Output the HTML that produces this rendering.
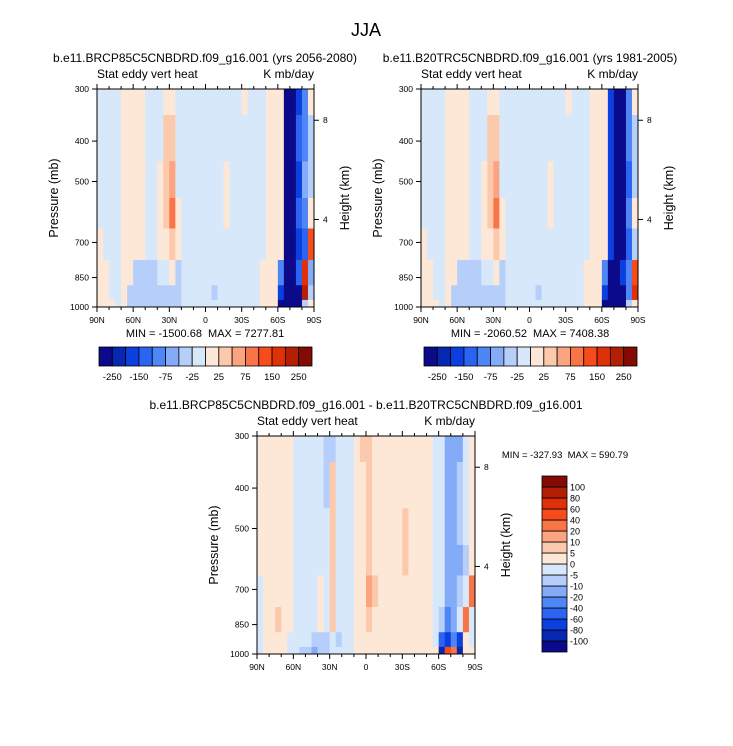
<!DOCTYPE html>
<html><head><meta charset="utf-8"><style>
body{margin:0;background:#fff;}
svg{display:block;font-family:"Liberation Sans",sans-serif;}
svg text{white-space:pre;}
</style></head><body>
<svg id="c" width="733" height="746" viewBox="0 0 733 746" xmlns="http://www.w3.org/2000/svg">
<text x="366" y="36" font-size="18" text-anchor="middle">JJA</text>
</svg>
<script>
// ---- data ----
const levels = [300,400,500,600,700,850,925,1000];
const latBins = 36; // 5-degree bins from 90N to 90S
const topBounds = [-250,-200,-150,-100,-75,-50,-25,0,25,50,75,100,150,200,250];
const topTickLabels = ["-250","-150","-75","-25","25","75","150","250"];
const diffBounds = [-100,-80,-60,-40,-20,-10,-5,0,5,10,20,40,60,80,100];
const diffTickLabels = ["-100","-80","-60","-40","-20","-10","-5","0","5","10","20","40","60","80","100"];
const colors = ["#0a0a8a","#0628b0","#0b3fe0","#2b64f2","#4e86f5","#84abf8","#b6cffa","#d8e8fb","#fde8d8","#fcc9ac","#fba47f","#f97446","#f74b1b","#df3008","#b21f05","#840a04"];
const xTicks = ["90N","60N","30N","0","30S","60S","90S"];
const pTicks = [300,400,500,700,850,1000];
const hTicks = [8,4];
const hTickPressure = [356.5,616.6];

const fieldA = [
[-10,-10,-10,-10,10,10,10,10,-10,-10,-10,10,10,-10,-10,-10,-10,-10,-10,-10,-10,-10,-10,-10,10,-10,-10,-10,10,10,10,-300,-300,-200,-100,10],
[-10,-10,-10,-10,10,10,10,10,-10,-10,-10,30,40,-10,-10,-10,-10,-10,-10,-10,-10,-10,-10,-10,-10,-10,-10,-10,10,10,10,-300,-300,-150,-100,-30],
[-10,-10,-10,-10,10,10,10,10,-10,-10,10,40,60,-10,-10,-10,-10,-10,-10,-10,-10,10,-10,-10,-10,-10,-10,-10,10,10,10,-300,-300,-200,-75,-30],
[-10,-10,-10,-10,10,10,10,10,-10,-10,10,30,80,10,-10,-10,-10,-10,-10,-10,-10,10,-10,-10,-10,-10,-10,-10,10,10,10,-300,-300,-150,-100,10],
[10,-10,-10,-10,10,10,10,10,-10,-10,10,10,30,10,-10,-10,-10,-10,-10,-10,-10,-10,-10,-10,-10,-10,-10,-10,10,10,10,-300,-300,-200,-150,100],
[10,10,-10,-10,10,10,-30,-30,-30,-30,-10,-10,10,-30,-10,-10,-10,-10,-10,-10,-10,-10,-10,-10,-10,-10,-10,10,10,10,-100,-300,-300,-150,150,-75],
[10,10,-10,-10,10,-30,-50,-50,-50,-30,-30,-50,-30,-50,-10,-10,-10,-10,-10,-30,-10,-10,-10,-10,-10,-10,-10,10,10,10,-200,-300,-300,-300,200,-50],
[10,10,10,-10,10,-30,-50,-30,-50,-30,-30,-50,-30,-30,-10,-10,-10,-10,-10,-10,-10,-10,-10,-10,-10,-10,-10,10,10,10,-300,-300,-300,-300,-50,10]
];
const fieldB = [
[-10,-10,-10,-10,10,10,10,10,-10,-10,-10,10,10,-10,-10,-10,-10,-10,-10,-10,-10,-10,-10,-10,10,-10,-10,-10,10,10,10,-200,-300,-300,-100,10],
[-10,-10,-10,-10,10,10,10,10,-10,-10,-10,30,40,-10,-10,-10,-10,-10,-10,-10,-10,-10,-10,-10,-10,-10,-10,-10,10,10,10,-200,-300,-300,-100,-30],
[-10,-10,-10,-10,10,10,10,10,-10,-10,10,40,60,-10,-10,-10,-10,-10,-10,-10,-10,10,-10,-10,-10,-10,-10,-10,10,10,10,-200,-300,-300,-150,-30],
[-10,-10,-10,-10,10,10,10,10,-10,-10,10,30,80,10,-10,-10,-10,-10,-10,-10,-10,10,-10,-10,-10,-10,-10,-10,10,10,10,-200,-300,-300,-100,10],
[10,-10,-10,-10,10,10,10,10,-10,-10,10,10,30,10,-10,-10,-10,-10,-10,-10,-10,-10,-10,-10,-10,-10,-10,-10,10,10,10,-200,-300,-300,-150,-50],
[10,10,-10,-10,10,10,-30,-30,-30,-30,-10,-10,10,-30,-10,-10,-10,-10,-10,-10,-10,-10,-10,-10,-10,-10,-10,10,10,10,-100,-300,-300,-200,-100,100],
[10,10,-10,-10,10,-30,-50,-50,-50,-30,-30,-50,-30,-50,-10,-10,-10,-10,-10,-30,-10,-10,-10,-10,-10,-10,-10,10,10,10,-200,-300,-300,-300,-100,150],
[10,10,10,-10,10,-30,-50,-30,-50,-30,-30,-50,-30,-30,-10,-10,-10,-10,-10,-10,-10,-10,-10,-10,-10,-10,-10,10,10,10,-300,-300,-300,-300,-50,10]
];
const fieldD = [
[3,3,3,3,3,3,-3,-3,-3,-3,-3,-7,-7,-3,-3,-3,3,7,7,3,3,3,3,3,3,3,3,3,3,-3,-3,-15,-15,-15,-3,3],
[3,3,3,3,3,3,-3,-3,-3,-3,-3,-7,7,-3,-3,-3,3,3,7,3,3,3,3,3,3,3,3,3,3,-3,-3,-15,-15,-7,-3,3],
[3,3,3,3,3,3,-3,-3,-3,-3,-3,-3,7,-3,-3,-3,3,3,7,3,3,3,3,3,7,3,3,3,3,-3,-3,-15,-15,-7,-3,3],
[3,3,3,3,3,3,-3,-3,-3,-3,-3,-3,7,-3,-3,-3,3,3,7,3,3,3,3,3,7,3,3,3,3,-3,-3,-15,-15,-15,-7,3],
[-3,3,3,3,3,3,-3,-3,-3,-3,3,-3,7,-3,-3,-3,3,3,15,7,3,3,3,3,3,3,3,3,3,-3,-3,-15,-15,-7,-3,30],
[-3,3,3,7,3,3,-3,-3,-3,-3,3,-3,7,-3,-3,-3,3,3,7,3,3,3,3,3,3,3,3,3,3,-3,-7,-30,-15,-3,30,-3],
[-3,3,3,3,3,-3,-3,-3,-3,-7,-7,-7,-3,-7,-3,-3,3,3,3,3,3,3,3,3,3,3,3,3,3,-3,-60,-80,-40,-80,3,-3],
[-3,3,3,3,3,-3,-3,-7,-7,-15,-7,-7,-3,-3,-3,-3,3,3,3,3,3,3,3,3,3,3,3,3,3,3,-100,40,30,-100,3,3]
];

// ---- helpers ----
const NS="http://www.w3.org/2000/svg";
const svg=document.getElementById('c');
function mk(tag,attrs,parent){const e=document.createElementNS(NS,tag);for(const k in attrs)e.setAttribute(k,attrs[k]);(parent||svg).appendChild(e);return e;}
function colorFor(v,bounds){let i=0;while(i<bounds.length&&v>=bounds[i])i++;return colors[i];}
function txt(x,y,s,size,anchor,parent,rot){const t=mk('text',{x:x,y:y,'font-size':size,'text-anchor':anchor||'start'},parent);if(rot)t.setAttribute('transform',`rotate(-90 ${x} ${y})`);t.textContent=s;return t;}

function panel(x0,y0,w,h,field,bounds,name){
  const g=mk('g',{});
  
  
  const yOf=p=>y0+h-Math.log(1000/p)/Math.log(1000/300)*h;
  const xOf=lat=>x0+(90-lat)/180*w;
  const edges=[300];
  for(let i=0;i<levels.length-1;i++)edges.push(Math.sqrt(levels[i]*levels[i+1]));
  edges.push(1000);
  for(let r=0;r<levels.length;r++){
    for(let c=0;c<latBins;c++){
      const xa=xOf(90-c*5), xb=xOf(90-(c+1)*5);
      const ya=yOf(edges[r]), yb=yOf(edges[r+1]);
      const cell=mk('rect',{x:xa,y:ya,width:xb-xa+0.4,height:yb-ya+0.4,fill:colorFor(field[r][c],bounds)},g);
      
      
    }
  }
  mk('rect',{x:x0,y:y0,width:w,height:h,fill:'none',stroke:'#000','stroke-width':1},g);
  xTicks.forEach((l,i)=>{const x=x0+i*w/6;
    mk('line',{x1:x,y1:y0+h,x2:x,y2:y0+h+5,stroke:'#000'},g);
    mk('line',{x1:x,y1:y0,x2:x,y2:y0-5,stroke:'#000'},g);
    const t=txt(x,y0+h+16,l,8.5,'middle',g);
    
  });
  for(let d=0;d<=180;d+=10){if(d%30===0)continue;const x=x0+d/180*w;
    mk('line',{x1:x,y1:y0+h,x2:x,y2:y0+h+3,stroke:'#000'},g);
    mk('line',{x1:x,y1:y0,x2:x,y2:y0-3,stroke:'#000'},g);}
  pTicks.forEach(p=>{const y=yOf(p);
    mk('line',{x1:x0,y1:y,x2:x0-5,y2:y,stroke:'#000'},g);
    const t=txt(x0-8,y+3,String(p),8.5,'end',g);
    
  });
  hTicks.forEach((k,i)=>{const y=yOf(hTickPressure[i]);
    mk('line',{x1:x0+w,y1:y,x2:x0+w+5,y2:y,stroke:'#000'},g);
    const t=txt(x0+w+9,y+3,String(k),8.5,'start',g);
    
  });
  let t=txt(x0,y0-11,'Stat eddy vert heat',12,'start',g);
  t=txt(x0+w,y0-11,'K mb/day',12,'end',g);
  t=txt(x0-39,y0+h/2,'Pressure (mb)',12.5,'middle',g,true);
  t=txt(x0+w+35,y0+h/2,'Height (km)',12.5,'middle',g,true);
}
function hbar(x0,y0,w,h,name){
  const g=mk('g',{});
  
  
  const bw=w/16;
  colors.forEach((c,i)=>{const r=mk('rect',{x:x0+i*bw,y:y0,width:bw,height:h,fill:c,stroke:'#000','stroke-width':0.8},g);
    });
  topTickLabels.forEach((l,i)=>{const t=txt(x0+(1+2*i)*bw,y0+h+14,l,9.5,'middle',g);
    });
}
function vbar(x0,y0,w,h,name){
  const g=mk('g',{});
  
  
  const bh=h/16;
  colors.forEach((c,i)=>{const r=mk('rect',{x:x0,y:y0+h-(i+1)*bh,width:w,height:bh,fill:c,stroke:'#000','stroke-width':0.8},g);
    });
  diffTickLabels.forEach((l,i)=>{const t=txt(x0+w+3,y0+h-(i+1)*bh+3.5,l,9,'start',g);
    });
}

panel(97,89,217,218,fieldA,topBounds,'panel-future');
panel(421,89,217,218,fieldB,topBounds,'panel-historical');
panel(257,436,218,218,fieldD,diffBounds,'panel-difference');
hbar(99,347,213,19,'colorbar-top-left');
hbar(424,347,213,19,'colorbar-top-right');
vbar(542,476,25,176,'colorbar-difference');

let t;
t=txt(205,62,'b.e11.BRCP85C5CNBDRD.f09_g16.001 (yrs 2056-2080)',12,'middle');
t=txt(530,62,'b.e11.B20TRC5CNBDRD.f09_g16.001 (yrs 1981-2005)',12,'middle');
t=txt(205,337,'MIN = -1500.68  MAX = 7277.81',11,'middle');
t=txt(530,337,'MIN = -2060.52  MAX = 7408.38',11,'middle');
t=txt(366,409,'b.e11.BRCP85C5CNBDRD.f09_g16.001 - b.e11.B20TRC5CNBDRD.f09_g16.001',12,'middle');
t=txt(565,458,'MIN = -327.93  MAX = 590.79',9.5,'middle');
</script>
</body></html>
